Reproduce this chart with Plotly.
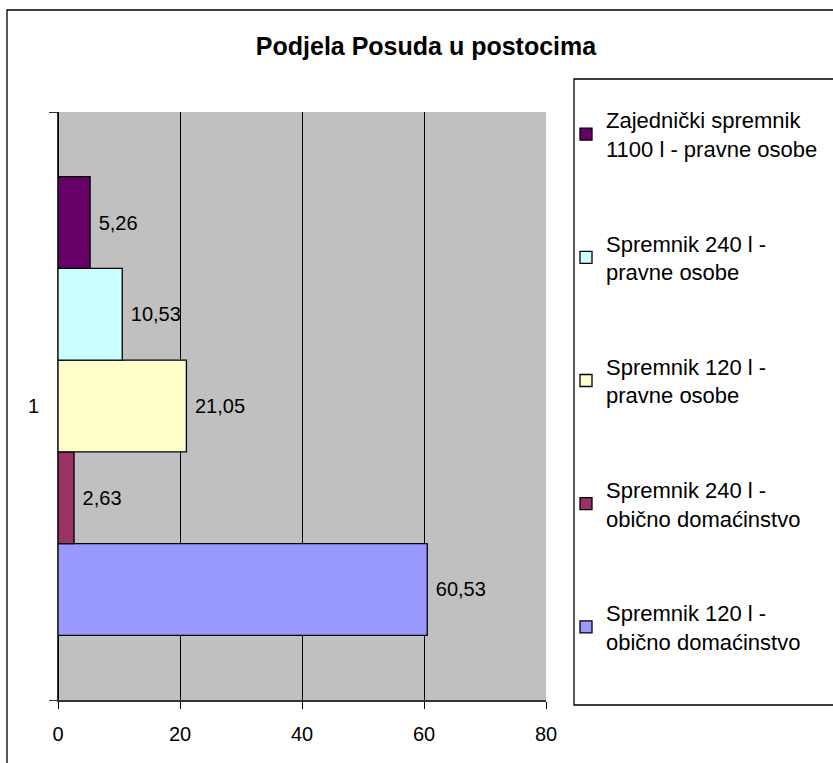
import plotly.graph_objects as go

category = ["1"]
series_names = [
    "Spremnik 120 l -<br>obično domaćinstvo",
    "Spremnik 240 l -<br>obično domaćinstvo",
    "Spremnik 120 l -<br>pravne osobe",
    "Spremnik 240 l -<br>pravne osobe",
    "Zajednički spremnik<br>1100 l - pravne osobe",
]
series_values = [60.53, 2.63, 21.05, 10.53, 5.26]
series_colors = ["#9999FF", "#993366", "#FFFFCC", "#CCFFFF", "#660066"]
x_ticks = [0, 20, 40, 60, 80]

W, H = 833, 763
L, R, T, B = 58, 546, 112, 700
pw, ph = R - L, B - T


def px_x(x):
    return (x - L) / pw


def px_y(y):
    return (B - y) / ph


FONT = "Liberation Sans, Arial, sans-serif"

fig = go.Figure()
n = len(series_names)
for i, (name, val, col) in enumerate(zip(series_names, series_values, series_colors)):
    fig.add_trace(
        go.Bar(
            name=name,
            y=category,
            x=[val],
            orientation="h",
            marker=dict(color=col, line=dict(color="black", width=1.3)),
            texttemplate=" %{x:.2f}",
            textposition="outside",
            textfont=dict(size=20, color="black", family=FONT),
            legendgroup=name,
            legendrank=n - i,
            cliponaxis=False,
        )
    )

fig.update_layout(
    width=W,
    height=H,
    margin=dict(l=L, r=W - R, t=T, b=H - B, autoexpand=False),
    paper_bgcolor="white",
    plot_bgcolor="#C0C0C0",
    separators=", ",
    barmode="group",
    bargap=0.22,
    font=dict(family=FONT, size=20, color="black"),
    title=dict(
        text="<b>Podjela Posuda u postocima</b>",
        x=426 / W,
        xanchor="center",
        y=1 - 46 / H,
        yanchor="middle",
        font=dict(size=25, family=FONT, color="black"),
    ),
    showlegend=True,
    legend=dict(
        traceorder="grouped",
        tracegroupgap=63,
        x=px_x(566),
        xanchor="left",
        y=px_y(99),
        yanchor="top",
        maxheight=700,
        bgcolor="rgba(0,0,0,0)",
        borderwidth=0,
        font=dict(size=22, family=FONT, color="black"),
        itemclick=False,
    ),
    xaxis=dict(
        range=[0, 80],
        tickvals=x_ticks,
        ticks="outside",
        ticklen=7,
        tickcolor="black",
        ticklabelstandoff=8,
        showline=True,
        linecolor="#333333",
        linewidth=2,
        showgrid=True,
        gridcolor="black",
        gridwidth=1,
        zeroline=True,
        zerolinecolor="black",
        zerolinewidth=1,
        tickfont=dict(size=20),
        fixedrange=True,
    ),
    yaxis=dict(
        type="category",
        tickson="boundaries",
        ticks="outside",
        ticklen=8,
        tickcolor="#333333",
        ticklabelstandoff=14,
        showline=True,
        linecolor="#333333",
        linewidth=1,
        showgrid=False,
        tickfont=dict(size=20),
        fixedrange=True,
    ),
    shapes=[
        # outer chart frame
        dict(type="rect", xref="paper", yref="paper",
             x0=px_x(7), x1=px_x(W + 20), y0=px_y(H + 20), y1=px_y(10),
             line=dict(color="black", width=1.3), layer="below"),
        # legend frame
        dict(type="rect", xref="paper", yref="paper",
             x0=px_x(574), x1=px_x(W + 10), y0=px_y(705), y1=px_y(79),
             line=dict(color="black", width=1.3)),
    ],
)

fig.write_html(
    "out.html",
    config={"displayModeBar": False},
    post_script="document.body.style.margin='0';",
)
